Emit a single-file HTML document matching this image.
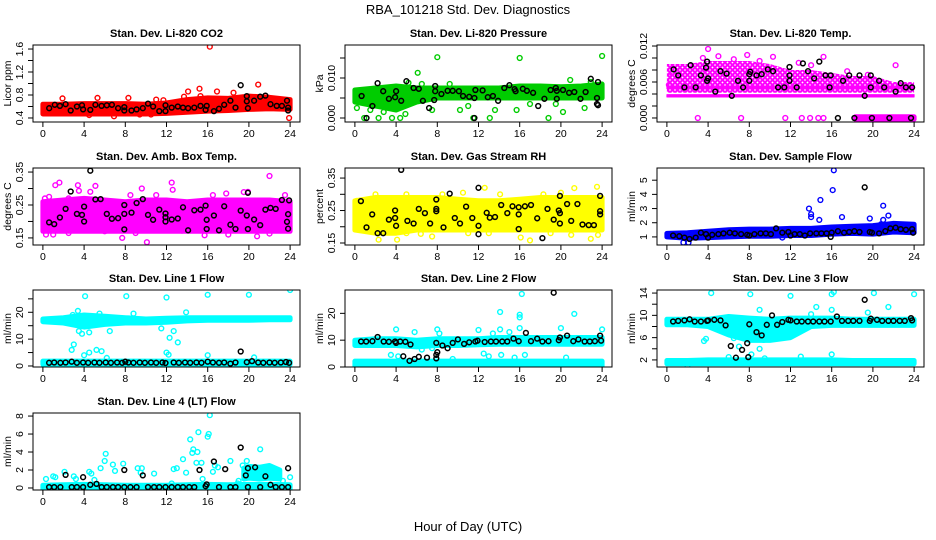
<!DOCTYPE html>
<html><head><meta charset="utf-8"><style>
html,body{margin:0;padding:0;background:#fff}
svg{display:block;font-family:"Liberation Sans",Arial,sans-serif}
</style></head><body>
<svg id="chart" width="936" height="540" viewBox="0 0 936 540" xmlns="http://www.w3.org/2000/svg">
<rect x="0" y="0" width="936" height="540" fill="#fff"/>
<text x="468" y="14" font-size="13" text-anchor="middle">RBA_101218  Std. Dev. Diagnostics</text>
<text x="468" y="531" font-size="13" text-anchor="middle">Hour of Day (UTC)</text>
</svg>
<script>
const bandHours=[0,2,4,6,8,10,12,14,16,18,20,22,24];
const xTicks=[0,4,8,12,16,20,24];
// Panel 1 CO2
const p1Lo=[0.47,0.47,0.47,0.47,0.47,0.47,0.48,0.50,0.52,0.53,0.55,0.56,0.55];
const p1Hi=[0.64,0.64,0.65,0.65,0.65,0.64,0.66,0.72,0.75,0.74,0.78,0.76,0.72];
const p1Pts=[[16.2,1.64],[20.9,0.98],[15.2,0.91],[14.1,0.86],[16.9,0.86],[18.5,0.84],[1.9,0.74],[5.3,0.75],[8.3,0.75],[13.7,0.77],[4.5,0.45],[6.9,0.43],[9.4,0.46],[10.5,0.46],[23.9,0.40],[15.3,0.78],[11,0.72],[11.7,0.71]];
const p1Black=[[0.61,0.57],[1.16,0.63],[1.65,0.61],[2.2,0.64],[2.7,0.53],[3.3,0.6],[3.8,0.62],[3.9,0.55],[4.6,0.54],[5.1,0.63],[5.7,0.61],[6.2,0.62],[6.7,0.63],[7.3,0.57],[7.9,0.59],[7.9,0.53],[8.6,0.53],[9.1,0.55],[9.7,0.57],[10.2,0.65],[10.7,0.6],[11.3,0.52],[11.9,0.52],[11.9,0.62],[12.5,0.58],[13.1,0.6],[13.6,0.58],[14.1,0.57],[14.7,0.58],[15.3,0.61],[15.8,0.54],[15.9,0.61],[16.6,0.52],[17.1,0.56],[17.6,0.63],[18.2,0.7],[18.7,0.58],[19.2,0.97],[19.8,0.78],[19.8,0.69],[19.9,0.57],[20.5,0.7],[21.1,0.77],[21.6,0.79],[22.1,0.64],[22.7,0.61],[23.2,0.61],[23.7,0.7],[23.8,0.58],[23.8,0.53]];
const p1Ticks=[0.4,0.6,0.8,1.0,1.2,1.4,1.6];
const p1Labels=["0.4","","0.8","","1.2","","1.6"];
// Panel 2 Pressure
const p2Lo=[0.004,0.003,0.002,0.004,0.005,0.005,0.005,0.005,0.005,0.005,0.005,0.005,0.005];
const p2Hi=[0.007,0.0075,0.008,0.0075,0.0075,0.0075,0.0075,0.0075,0.008,0.008,0.0078,0.008,0.0085];
const p2Pts=[[8,0.0152],[16,0.015],[24,0.0155],[6.1,0.0113],[0.2,0.0025],[0.9,0],[2.3,0],[3.6,0],[4.4,0],[11.5,0],[13.1,0],[18.8,0],[10.2,0.002],[13.6,0.002],[15.7,0.002],[20.2,0.0015],[22.3,0.0025],[7.5,0.002],[4.9,0.001],[11,0.003],[17,0.0035],[19.5,0.0035],[22.9,0.009],[20.9,0.0095],[5.2,0.0088],[1.5,0.002],[2.8,0.0015],[6.5,0.0085],[9.2,0.0085]];
const p2Black=[[0.65,0.0055],[1.7,0.003],[1.13,0],[2.2,0.0087],[2.75,0.0067],[3.3,0.0048],[4,0.0067],[3.9,0.0052],[4.5,0.0043],[5,0.0092],[5.7,0.0075],[6.2,0.0073],[6.6,0.0043],[7.2,0.0025],[7.7,0.0045],[7.8,0.008],[7.8,0.0067],[8.4,0.006],[9,0.0068],[9.5,0.0068],[10.1,0.0067],[10.5,0.0055],[11.1,0.0053],[11.6,0.005],[11.7,0.007],[11.6,0],[12.4,0.0069],[12.9,0.0052],[13.4,0.0055],[13.9,0.0043],[14.5,0.0075],[15,0.0082],[15.5,0.0072],[15.6,0.0067],[16.3,0.0073],[16.7,0.0068],[17.3,0.0063],[17.8,0.003],[18.4,0.0048],[19,0.007],[19.5,0.0075],[19.6,0.0068],[19.6,0.0048],[20.2,0.007],[20.8,0.0063],[21.3,0.0065],[21.9,0.0048],[22.4,0.0065],[22.9,0.0098],[23.6,0.009],[23.5,0.005],[23.5,0.0035],[23.6,0.0032]];
const p2Ticks=[0,0.005,0.010,0.015];
const p2Labels=["0.000","","0.010",""];
// Panel 3 Li-820 Temp
const p3Lo=[0.0042,0.0042,0.0042,0.0042,0.0042,0.0042,0.0042,0.0042,0.0042,0.0042,0.0042,0.0042,0.0042];
const p3Hi=[0.009,0.009,0.0095,0.0095,0.0095,0.009,0.008,0.008,0.0075,0.007,0.007,0.006,0.006];
const p3StripX=[0,24];
const p3StripALo=[0.0035,0.0035];
const p3StripAHi=[0.0039,0.0039];
const p3StripBLo=[0.0049,0.0049];
const p3StripBHi=[0.0053,0.0053];
const p3ZeroX=[18.3,24];
const p3ZeroLo=[-0.0002,-0.0002];
const p3ZeroHi=[0.0002,0.0002];
const p3Pts=[[3,0],[7.2,0],[11.5,0],[13.1,0],[13.9,0],[14.7,0],[15.2,0],[19.5,0],[4,0.0115],[5,0.0103],[7.8,0.0105],[10.3,0.0102],[15.2,0.0102],[22.2,0.0088],[0.2,0.0055],[0.5,0.0075],[3.5,0.01],[6.5,0.0098],[9,0.0095],[12.8,0.0092],[14,0.0088],[17.5,0.0078],[19.5,0.0072]];
const p3Black=[[0.65,0.0081],[1.1,0.0071],[1.7,0.0051],[2.3,0.0088],[2.8,0.0051],[3.3,0.0071],[3.9,0.0094],[3.9,0.0062],[4,0.0066],[3.8,0.0084],[4.7,0.0044],[5.2,0.0078],[5.8,0.0074],[6.3,0.0037],[6.9,0.0062],[7.4,0.0051],[8,0.0062],[8.1,0.0077],[8,0.0073],[8.7,0.0071],[9.2,0.0073],[9.8,0.0081],[10.3,0.0078],[10.8,0.0051],[11.4,0.0051],[11.9,0.0085],[11.9,0.0071],[11.9,0.0062],[12.6,0.0051],[13.2,0.0091],[13.7,0.0078],[14.3,0.0066],[14.8,0.0094],[15.4,0.0071],[15.8,0.0051],[15.9,0.0071],[16.6,0],[17.1,0.0062],[17.7,0.0071],[18.2,0],[18.7,0.0071],[19.2,0.0037],[19.8,0.0071],[19.8,0.0051],[19.9,0],[20.6,0.0062],[21.1,0.0051],[21.6,0],[22.2,0.0044],[22.7,0.0058],[23.2,0.0051],[23.8,0.0051],[23.7,0]];
const p3Ticks=[0,0.002,0.004,0.006,0.008,0.010,0.012];
const p3Labels=["0.000","","","0.006","","","0.012"];
// Panel 4 Amb Box Temp
const p4Lo=[0.17,0.17,0.17,0.17,0.17,0.17,0.17,0.17,0.17,0.17,0.17,0.17,0.17];
const p4Hi=[0.26,0.265,0.27,0.265,0.26,0.265,0.265,0.26,0.265,0.265,0.265,0.265,0.26];
const p4Pts=[[1.6,0.318],[1.2,0.31],[3.4,0.31],[3.5,0.293],[5.1,0.308],[4.6,0.29],[9.6,0.3],[12.5,0.318],[12.6,0.296],[22,0.338],[0.3,0.16],[7.7,0.15],[10.1,0.137],[13.5,0.172],[20.8,0.155],[18,0.16],[15.7,0.158],[19.5,0.289],[19.9,0.29],[17.8,0.285],[0.2,0.27],[0.6,0.275],[2.5,0.27],[8.5,0.28],[11,0.28],[16.5,0.28],[23.5,0.28],[1,0.16],[2.5,0.165],[6,0.17],[9,0.165],[22,0.163]];
const p4Black=[[4.6,0.354],[2.7,0.291],[0.6,0.197],[1.1,0.192],[1.65,0.212],[2.2,0.238],[3.3,0.223],[3.8,0.22],[4,0.245],[4,0.2],[5.1,0.267],[5.6,0.268],[6.2,0.223],[6.7,0.208],[7.3,0.21],[7.9,0.25],[7.9,0.223],[7.9,0.176],[8.6,0.227],[9.1,0.256],[9.7,0.268],[10.2,0.22],[10.7,0.205],[11.3,0.236],[11.9,0.224],[11.9,0.213],[11.9,0.2],[12.5,0.206],[13.1,0.209],[13.6,0.243],[14.1,0.173],[14.7,0.234],[15.3,0.236],[15.8,0.248],[15.9,0.205],[15.9,0.177],[16.6,0.218],[17.1,0.173],[17.6,0.246],[18.2,0.19],[18.7,0.177],[19.2,0.233],[19.8,0.218],[19.9,0.287],[19.9,0.177],[20.5,0.206],[21.1,0.189],[21.6,0.236],[22.1,0.241],[22.6,0.238],[23.2,0.265],[23.9,0.264],[23.8,0.222],[23.7,0.199],[23.8,0.178]];
const p4Ticks=[0.15,0.20,0.25,0.30,0.35];
const p4Labels=["0.15","","0.25","","0.35"];
// Panel 5 Gas Stream RH
const p5Lo=[0.19,0.18,0.18,0.19,0.19,0.19,0.19,0.19,0.19,0.19,0.19,0.19,0.19];
const p5Hi=[0.28,0.29,0.29,0.29,0.29,0.285,0.28,0.28,0.285,0.29,0.29,0.29,0.29];
const p5Pts=[[14.1,0.3],[12.6,0.32],[21.3,0.319],[23.5,0.323],[2.3,0.16],[4.1,0.16],[22.9,0.163],[5,0.18],[6.4,0.178],[17,0.158],[16.1,0.167],[5,0.3],[2,0.3],[8.5,0.3],[10.5,0.305],[18.3,0.3],[20,0.305],[0.2,0.28],[1,0.19],[7.5,0.17],[11,0.18],[13,0.18],[19,0.18],[21,0.175],[23.6,0.175]];
const p5Black=[[4.5,0.375],[0.58,0.279],[1.13,0.198],[1.68,0.238],[2.2,0.18],[2.75,0.18],[3.3,0.222],[3.9,0.25],[3.9,0.227],[4,0.203],[5.1,0.218],[5.7,0.21],[6.2,0.255],[6.8,0.242],[7.3,0.21],[7.9,0.284],[7.9,0.255],[7.9,0.248],[8.6,0.198],[9.2,0.302],[9.7,0.227],[10.2,0.21],[10.8,0.262],[11.4,0.227],[12,0.32],[12,0.203],[12,0.177],[12.8,0.243],[13.1,0.228],[13.6,0.23],[14.2,0.267],[14.8,0.242],[15.3,0.263],[15.9,0.238],[15.9,0.26],[15.9,0.193],[16.5,0.263],[17.1,0.267],[17.7,0.226],[18.2,0.165],[18.7,0.255],[19.3,0.222],[19.8,0.25],[19.9,0.21],[19.9,0.295],[19.9,0.242],[20.6,0.27],[21,0.218],[21.6,0.27],[22.1,0.207],[22.7,0.205],[23.2,0.205],[23.8,0.295],[23.8,0.248],[23.8,0.238]];
const p5Ticks=[0.15,0.20,0.25,0.30,0.35];
const p5Labels=["0.15","","0.25","","0.35"];
// Panel 6 Sample Flow
const p6Lo=[1.0,0.9,0.95,1.0,1.05,1.05,1.1,1.1,1.2,1.25,1.2,1.35,1.3];
const p6Hi=[1.25,1.3,1.4,1.5,1.55,1.55,1.6,1.6,1.7,1.75,1.8,1.95,1.9];
const p6Pts=[[16.2,5.7],[16.1,4.3],[14.9,3.6],[13.8,3.0],[14,2.6],[14,2.4],[14.8,2.2],[17,2.4],[19.7,2.3],[21,3.2],[21,2.2],[21.5,2.5],[1.6,0.6],[2.1,0.6],[20.8,1.9],[11.2,0.95]];
const p6Black=[[0.6,1.1],[1.2,1.05],[1.7,0.95],[2.2,0.85],[2.8,0.95],[3.3,1.3],[3.8,1.2],[4,0.95],[4.4,1.15],[5,1.2],[5.5,1.25],[6.1,1.3],[6.6,1.25],[7.2,1.2],[7.8,1.15],[8,1.1],[8.5,1.2],[9.1,1.25],[9.6,1.25],[10.1,1.2],[10.6,1.6],[11.2,1.3],[11.8,1.35],[12,1.1],[12.4,1.2],[12.9,1.2],[13.4,1.1],[13.9,1.25],[14.5,1.25],[15,1.25],[15.5,1.25],[15.9,1.0],[16,1.3],[16.6,1.4],[17.2,1.3],[17.7,1.35],[18.2,1.4],[18.7,1.35],[19.2,4.5],[19.7,1.35],[19.9,1.3],[20.6,1.25],[21.2,1.4],[21.7,1.6],[22.2,1.65],[22.7,1.55],[23.2,1.5],[23.8,1.55],[23.9,1.3]];
const p6Ticks=[1,2,3,4,5];
const p6Labels=["1","2","3","4","5"];
// Panel 7 Line 1 Flow
const p7Lo=[16.5,16,14.5,15.5,16,16,16.3,16.8,17,17,17,17.2,17.2];
const p7Hi=[17.5,18,19,18.5,18,17.5,17.8,18,18,18,18,18,18];
const p7Lo2=[0.6,0.6,0.6,0.6,0.6,0.6,0.6,0.6,0.6,0.6,0.6,0.6,0.6];
const p7Hi2=[1.8,1.8,1.8,1.8,1.8,1.8,1.8,1.8,1.8,1.8,1.8,1.8,1.8];
const p7Pts=[[4.1,26],[8.1,26],[12,25.5],[16,26.5],[20,26.5],[24,28.3],[3.5,13],[3.8,12],[4.5,12.5],[6.5,13],[11.5,14],[12.7,13],[12.3,10.5],[13.1,8.8],[3,8],[2.8,6],[4,4],[4.5,5],[5.2,6],[5.7,5.5],[12,5],[12.2,4.2],[6.2,3],[16,4],[20.5,3.2],[13.9,20],[3.4,20.5],[8.8,19.5],[2.9,19],[5.5,19.5]];
const p7Black=[[0.6,1.2],[1.1,1.3],[1.7,1.2],[2.2,1.3],[2.8,1.6],[3.3,1.2],[3.9,1.3],[4.4,1.2],[5,1.3],[5.5,1.2],[6.1,1.3],[6.6,1.2],[7.2,1.3],[7.7,1.2],[8,1.6],[8.3,1.3],[8.8,1.2],[9.4,1.3],[9.9,1.2],[10.5,1.3],[11,1.2],[11.6,1.3],[11.9,1.1],[12.7,1.3],[13.2,1.2],[13.8,1.3],[14.3,1.2],[14.9,1.3],[15.4,1.2],[16,1.6],[16.5,1.3],[17.1,1.2],[17.6,1.3],[18.2,0.9],[18.7,1.3],[19.2,5.4],[19.8,1.4],[20.3,1.8],[20.9,1.3],[21.4,1.2],[22,1.3],[22.5,1.2],[23.1,1.3],[23.6,1.5],[23.9,1.2]];
const p7Ticks=[0,5,10,15,20,25];
const p7Labels=["0","","10","","20",""];
// Panel 8 Line 2 Flow
const p8Lo=[8,8,8,7.5,8,8,8.3,8.5,8.5,8.5,8.5,8.5,8.5];
const p8Hi=[10,10.5,10.5,10,10.5,10.5,10.5,11,11,11,11,11,11];
const p8Lo2=[0.5,0.5,0.5,0.5,0.5,0.5,0.5,0.5,0.5,0.5,0.5,0.5,0.5];
const p8Hi2=[2.2,2.2,2.2,2.2,2.2,2.2,2.2,2.2,2.2,2.2,2.2,2.2,2.2];
const p8Pts=[[16.2,27.2],[14.1,20.5],[16,19.5],[16,18.5],[21.3,19.8],[4,14],[8,14],[12,13.8],[14.1,14],[16,14.5],[20,14.5],[24,14],[5.8,13],[13.4,12.5],[15,13],[8.2,12.5],[3.5,4.5],[4.2,4],[6.5,6.5],[7.5,7],[12.5,5],[13,4],[14.2,4.5],[16.5,4.5],[20.5,3.5],[9.5,3],[15.5,3.5]];
const p8Black=[[0.6,9.5],[1.1,9.5],[1.7,9.6],[2.2,11.2],[2.8,9.5],[3.3,9.4],[3.9,9.5],[4,9],[4.4,9.5],[4.9,9.4],[5.4,8.4],[4.7,4],[5.3,2.3],[5.8,3],[6.2,3.8],[7,3.5],[7.9,3.2],[7.9,4.5],[8,5.5],[7.9,9],[8.5,8],[9,7],[9.5,9],[10,10.3],[10.6,8.6],[11.1,9.2],[11.7,9.5],[11.9,9.8],[12.6,9.3],[13.2,9.5],[13.7,9.5],[14.3,9.5],[14.8,9.5],[15.4,10.6],[15.9,9.6],[16.6,12.7],[17.1,9.6],[17.7,10.6],[18.2,9.5],[18.8,9.6],[19.3,27.7],[19.8,10],[19.9,11],[20.6,11.7],[21.2,9.6],[21.7,10.3],[22.3,9.5],[22.8,9.5],[23.3,9.6],[23.8,11.7],[23.9,9.8]];
const p8Ticks=[0,10,20];
const p8Labels=["0","10","20"];
// Panel 9 Line 3 Flow
const p9Lo=[8.3,8.3,8.0,6.5,5.5,5.5,6,8,8.2,8.2,8.2,8.2,8.2];
const p9Hi=[9.3,9.3,9.3,9.8,9.5,9.3,9.5,9.5,9.5,9.3,9.3,9.3,9.3];
const p9Lo2=[1.3,1.3,1.3,1.3,1.3,1.3,1.3,1.3,1.3,1.3,1.3,1.3,1.3];
const p9Hi2=[1.9,1.9,2.0,2.0,2.0,2.0,2.0,2.0,2.0,1.9,1.9,1.9,1.9];
const p9Pts=[[4.3,14],[8.1,13.8],[12,13.5],[16,13.8],[16.2,14.2],[20.1,14],[24,13.8],[3.8,5.8],[3.6,5.4],[5,8.4],[6.5,5.9],[7,4.4],[8.2,3],[9,4],[9.4,5.6],[10,6.5],[10.5,7.5],[9,11],[14.5,11.5],[16,11],[19.5,10.5],[21.5,11.5],[14,10.2],[7.3,7],[6,7.5],[2,1],[16,3],[13,2.6],[6,2.5],[9.5,2.3]];
const p9Black=[[0.6,8.9],[1.1,9],[1.7,9.1],[2.2,9.3],[2.7,8.9],[3.3,8.9],[3.9,9],[4,9.1],[4.6,9.2],[5.2,9.1],[5.7,8.2],[6.2,4.5],[6.7,2.4],[7.3,3.8],[7.8,5],[7.9,2.5],[8,8.4],[8.7,7],[9.2,6.4],[9.7,8.3],[10.2,10],[10.7,8.3],[11.2,8.8],[11.8,9.2],[12,9.1],[12.6,8.9],[13.1,8.9],[13.7,8.9],[14.2,8.9],[14.8,8.9],[15.3,8.9],[15.9,8.9],[16.5,9.8],[17,9],[17.6,9],[18.1,9],[18.7,9],[19.2,12.8],[19.7,9],[19.8,9.4],[20.4,9.2],[20.9,9],[21.5,9],[22,9],[22.6,9],[23.1,9],[23.7,9.5],[23.8,9.1]];
const p9Ticks=[2,4,6,8,10,12,14];
const p9Labels=["2","","6","","10","","14"];
// Panel 10 Line 4 Flow
const p10Lo=[-0.1,-0.1,-0.1,-0.1,-0.1,-0.1,-0.1,-0.1,-0.1,-0.1,-0.1,-0.1,-0.1];
const p10Hi=[0.3,0.35,0.4,0.35,0.3,0.3,0.3,0.35,0.4,0.35,0.4,0.4,0.35];
const p10X2=[19.5,20,21,22,23];
const p10Lo2=[1,1.1,1,1.1,1];
const p10Hi2=[2.2,2.4,2.3,2.5,2];
const p10Pts=[[0.3,1],[1,1.3],[1.2,1.2],[2.1,1.8],[3,1.3],[3.2,1],[4.5,1.8],[4.7,1.6],[5.6,2.2],[6.1,3.8],[6,3],[6.8,2.6],[7,1.9],[7.8,2.7],[9.2,2.2],[9.6,2.2],[9.5,1.7],[10.8,1.6],[12.7,2.1],[13,2.2],[13.6,3.2],[13.9,1.7],[14.3,5.4],[14.5,3.9],[14.6,4.3],[15.1,6.2],[15,4],[14.9,2.8],[15.4,2.8],[15.5,1],[16,5.7],[16.1,6],[16.2,8.1],[16.5,1.8],[16.7,2.5],[17,2.3],[18.2,3],[19,0.8],[19.4,2.5],[19.8,3],[21.1,4.3],[23.3,0.8],[24,1.2],[18.9,0.5],[5,0.9],[12.5,0.5]];
const p10Black=[[0.6,0.1],[1.1,0.1],[1.7,0.1],[2.2,1.46],[2.8,0.1],[3.3,0.1],[3.9,1.2],[3.9,0.1],[4.6,0.35],[5.2,0.45],[5.7,0.1],[6.2,0.1],[6.8,0.1],[7.3,0.1],[7.9,2],[7.9,0.1],[8.5,0.1],[9.1,0.1],[9.7,1.4],[10.2,0.1],[10.8,0.1],[11.3,0.1],[11.9,0.1],[12.5,0.1],[13.1,0.1],[13.6,0.1],[14.2,0.1],[14.7,0.1],[15.2,2],[15.9,0.4],[15.8,0.2],[16.6,2.95],[17.1,0.1],[17.7,2.1],[18.2,0.1],[18.7,0.1],[19.2,4.5],[19.7,1.4],[19.9,2.2],[19.9,0.1],[20.6,2.3],[21.1,0.1],[21.6,1.3],[22.1,0.35],[22.6,0.1],[23.2,0.1],[23.8,2.2],[23.8,0.1]];
const p10Ticks=[0,2,4,6,8];
const p10Labels=["0","2","4","6","8"];

const NS="http://www.w3.org/2000/svg";
const svg=document.getElementById('chart');
const COLS=[33,345,657], ROWS=[45,168,290,413], W=267, H=77;
function mk(tag,attrs,parent){const e=document.createElementNS(NS,tag);for(const k in attrs)e.setAttribute(k,attrs[k]);(parent||svg).appendChild(e);return e;}
const defs=mk('defs',{});
let patN=0;
function makePattern(color,step){
  const id='pat'+(patN++);
  const p=mk('pattern',{id:id,width:step,height:step,patternUnits:'userSpaceOnUse'},defs);
  mk('circle',{cx:step/2,cy:step/2,r:2.2,fill:'none',stroke:color,'stroke-width':1.3},p);
  mk('circle',{cx:0,cy:0,r:2.2,fill:'none',stroke:color,'stroke-width':1.3},p);
  mk('circle',{cx:step,cy:0,r:2.2,fill:'none',stroke:color,'stroke-width':1.3},p);
  mk('circle',{cx:0,cy:step,r:2.2,fill:'none',stroke:color,'stroke-width':1.3},p);
  mk('circle',{cx:step,cy:step,r:2.2,fill:'none',stroke:color,'stroke-width':1.3},p);
  return 'url(#'+id+')';
}

function panel(o){
  const L=COLS[o.col],T=ROWS[o.row],B=T+H;
  const g=mk('g',{});
  
  
  const xs=h=>L+(h+0.96)/25.92*W;
  const ys=v=>B-(v-o.dom[0])/(o.dom[1]-o.dom[0])*H;
  const cid='clip'+o.name;
  const cp=mk('clipPath',{id:cid},g);mk('rect',{x:L,y:T,width:W,height:H},cp);
  const plot=mk('g',{'clip-path':'url(#'+cid+')'},g);
  o.bands.forEach(b=>{
    let pts=b.x.map((h,i)=>xs(h).toFixed(1)+','+ys(b.hi[i]).toFixed(1));
    for(let i=b.x.length-1;i>=0;i--)pts.push(xs(b.x[i]).toFixed(1)+','+ys(b.lo[i]).toFixed(1));
    const attrs={points:pts.join(' '),'stroke-linejoin':'round'};
    if(b.pattern){attrs.fill=makePattern(o.color,b.pattern);attrs.stroke='none';}
    else if(b.thin){attrs.fill=o.color;attrs.stroke=o.color;attrs['stroke-width']=1;}
    else {attrs.fill=o.color;attrs.stroke=o.color;attrs['stroke-width']=5;}
    const p=mk('polygon',attrs,plot);
    
    
  });
  o.pts.forEach(d=>{
    const c=mk('circle',{cx:xs(d[0]).toFixed(1),cy:ys(d[1]).toFixed(1),r:2.4,fill:'none',stroke:o.color,'stroke-width':1.4},plot);
    
    
  });
  o.black.forEach(d=>{
    const c=mk('circle',{cx:xs(d[0]).toFixed(1),cy:ys(d[1]).toFixed(1),r:2.4,fill:'none',stroke:'#000','stroke-width':1.5},plot);
    
    
  });
  const box=mk('rect',{x:L,y:T,width:W,height:H,fill:'none',stroke:'#000','stroke-width':1},g);
  
  
  const t=mk('text',{x:L+W/2,y:T-8,'font-size':11,'font-weight':'bold','text-anchor':'middle'},g);
  t.textContent=o.title;
  
  
  xTicks.forEach(h=>{
    mk('line',{x1:xs(h),x2:xs(h),y1:B,y2:B+5,stroke:'#000'},g);
    const tx=mk('text',{x:xs(h),y:B+15,'font-size':10.5,'text-anchor':'middle'},g);
    tx.textContent=String(h);
    
    
  });
  o.ticks.forEach((v,i)=>{
    const y=ys(v);
    mk('line',{x1:L-5,x2:L,y1:y,y2:y,stroke:'#000'},g);
    if(o.labels[i]){
      const ty=mk('text',{x:L-10,y:y,'font-size':10.5,'text-anchor':'middle',transform:'rotate(-90 '+(L-10)+' '+y+')'},g);
      ty.textContent=o.labels[i];
      
      
    }
  });
  const cy=T+H/2;
  const yl=mk('text',{x:L-22,y:cy,'font-size':10.5,'text-anchor':'middle',transform:'rotate(-90 '+(L-22)+' '+cy+')'},g);
  yl.textContent=o.ylab;
  
  
}
const BH=bandHours;
panel({name:'co2-panel',col:0,row:0,title:'Stan. Dev. Li-820 CO2',ylab:'Licor ppm',color:'#ff0000',dom:[0.33,1.67],ticks:p1Ticks,labels:p1Labels,bands:[{x:BH,lo:p1Lo,hi:p1Hi}],pts:p1Pts,black:p1Black});
panel({name:'pressure-panel',col:1,row:0,title:'Stan. Dev. Li-820 Pressure',ylab:'kPa',color:'#00cc00',dom:[-0.001,0.01825],ticks:p2Ticks,labels:p2Labels,bands:[{x:BH,lo:p2Lo,hi:p2Hi}],pts:p2Pts,black:p2Black});
panel({name:'li820-temp-panel',col:2,row:0,title:'Stan. Dev. Li-820 Temp.',ylab:'degrees C',color:'#ff00ff',dom:[-0.00067,0.01217],ticks:p3Ticks,labels:p3Labels,bands:[{x:BH,lo:p3Lo,hi:p3Hi,pattern:5},{x:p3StripX,lo:p3StripALo,hi:p3StripAHi,thin:true},{x:p3StripX,lo:p3StripBLo,hi:p3StripBHi,thin:true},{x:p3ZeroX,lo:p3ZeroLo,hi:p3ZeroHi}],pts:p3Pts,black:p3Black});
panel({name:'amb-box-temp-panel',col:0,row:1,title:'Stan. Dev. Amb. Box Temp.',ylab:'degrees C',color:'#ff00ff',dom:[0.1285,0.3623],ticks:p4Ticks,labels:p4Labels,bands:[{x:BH,lo:p4Lo,hi:p4Hi}],pts:p4Pts,black:p4Black});
panel({name:'gas-stream-rh-panel',col:1,row:1,title:'Stan. Dev. Gas Stream RH',ylab:'percent',color:'#ffff00',dom:[0.1438,0.381],ticks:p5Ticks,labels:p5Labels,bands:[{x:BH,lo:p5Lo,hi:p5Hi}],pts:p5Pts,black:p5Black});
panel({name:'sample-flow-panel',col:2,row:1,title:'Stan. Dev. Sample Flow',ylab:'ml/min',color:'#0000ff',dom:[0.43,5.86],ticks:p6Ticks,labels:p6Labels,bands:[{x:BH,lo:p6Lo,hi:p6Hi}],pts:p6Pts,black:p6Black});
panel({name:'line1-flow-panel',col:0,row:2,title:'Stan. Dev. Line 1 Flow',ylab:'ml/min',color:'#00ffff',dom:[-0.38,28.3],ticks:p7Ticks,labels:p7Labels,bands:[{x:BH,lo:p7Lo,hi:p7Hi},{x:BH,lo:p7Lo2,hi:p7Hi2}],pts:p7Pts,black:p7Black});
panel({name:'line2-flow-panel',col:1,row:2,title:'Stan. Dev. Line 2 Flow',ylab:'ml/min',color:'#00ffff',dom:[0,28.7],ticks:p8Ticks,labels:p8Labels,bands:[{x:BH,lo:p8Lo,hi:p8Hi},{x:BH,lo:p8Lo2,hi:p8Hi2}],pts:p8Pts,black:p8Black});
panel({name:'line3-flow-panel',col:2,row:2,title:'Stan. Dev. Line 3 Flow',ylab:'ml/min',color:'#00ffff',dom:[0.73,14.55],ticks:p9Ticks,labels:p9Labels,bands:[{x:BH,lo:p9Lo,hi:p9Hi},{x:BH,lo:p9Lo2,hi:p9Hi2}],pts:p9Pts,black:p9Black});
panel({name:'line4-flow-panel',col:0,row:3,title:'Stan. Dev. Line 4 (LT) Flow',ylab:'ml/min',color:'#00ffff',dom:[-0.225,8.34],ticks:p10Ticks,labels:p10Labels,bands:[{x:BH,lo:p10Lo,hi:p10Hi},{x:p10X2,lo:p10Lo2,hi:p10Hi2}],pts:p10Pts,black:p10Black});
</script>
</body></html>
